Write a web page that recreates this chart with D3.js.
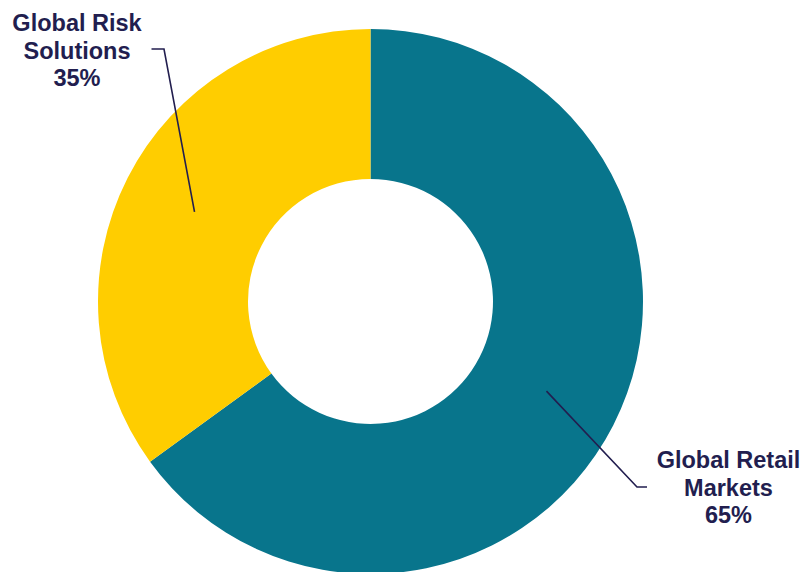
<!DOCTYPE html>
<html>
<head>
<meta charset="utf-8">
<script src="https://cdn.jsdelivr.net/npm/d3@7"></script>
<style>
  body { margin: 0; background: #fff; }
  svg { display: block; }
  .label { font-family: "Liberation Sans", Arial, sans-serif; font-weight: bold; font-size: 23.5px; fill: #221e4f; }
</style>
</head>
<body>
<svg width="804" height="572"></svg>
<script>
// data
let segments = ["Global Retail Markets", "Global Risk Solutions"];
let shares = [65, 35];
let labelLines = [["Global Retail", "Markets", "65%"], ["Global Risk", "Solutions", "35%"]];
let colors = ["#08758c", "#ffcd00"];

// layout
let cx = 370.5, cy = 301.5;
let outerR = 272.5, innerR = 122.5;

let svg = d3.select("svg");
let g = svg.append("g").attr("transform", "translate(" + cx + "," + cy + ")");

let pie = d3.pie().sort(null).value(d => d);
let arc = d3.arc().innerRadius(innerR).outerRadius(outerR);

let arcs = pie(shares);

g.selectAll("path.slice")
  .data(arcs)
  .join("path")
  .attr("class", "slice")
  .attr("d", arc)
  .style("fill", (d, i) => colors[i]);

// leader lines + labels (label elbow & text spot, relative to center)
let labelPos = [
  { elbow: [266.5, 185.5], tick: 10, textX: 358, textY: 166.5 },
  { elbow: [-206.5, -252.5], tick: -12.5, textX: -293.5, textY: -270.5 }
];

arcs.forEach(function (d, i) {
  let c = arc.centroid(d);
  let p = labelPos[i];
  g.append("path")
    .attr("d", d3.line()([c, p.elbow, [p.elbow[0] + p.tick, p.elbow[1]]]))
    .style("fill", "none")
    .style("stroke", "#221e4f")
    .style("stroke-width", 1.6);

  let t = g.append("text")
    .attr("class", "label")
    .attr("text-anchor", "middle");
  labelLines[i].forEach(function (line, j) {
    t.append("tspan")
      .attr("x", p.textX)
      .attr("y", p.textY + j * 27.5)
      .text(line);
  });
});
</script>
</body>
</html>
